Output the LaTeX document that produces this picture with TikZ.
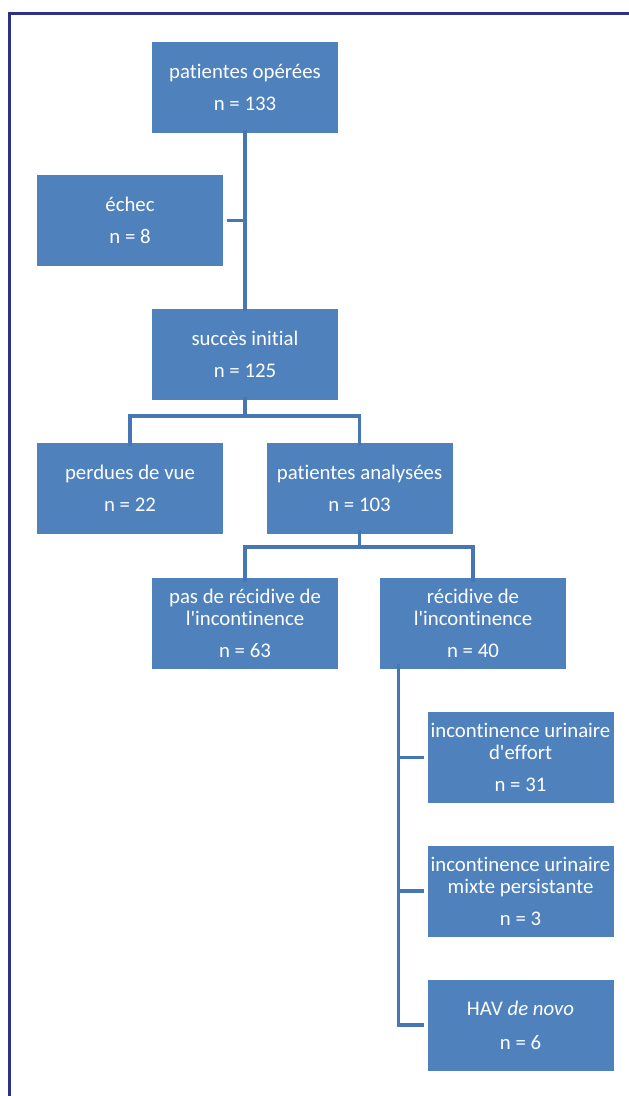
\documentclass[tikz,border=0pt]{standalone}
\usepackage{fontspec}
\setmainfont{Carlito}[Ligatures={TeXOff,CommonOff}]
\definecolor{boxblue}{HTML}{4F81BD}
\definecolor{lineblue}{HTML}{4676B3}
\definecolor{framenavy}{HTML}{2E3188}
\begin{document}
\begin{tikzpicture}[x=1pt,y=-1pt,
  fbox/.style={fill=boxblue, draw=none, minimum width=186pt, minimum height=91pt,
    inner sep=1pt, align=center, text=white, font=\fontsize{20.8}{22}\selectfont},
  conn/.style={draw=lineblue, line width=3.6pt}]
\fill[white] (0,0) rectangle (629,1096);
\useasboundingbox (0,0) rectangle (629,1096);
% frame
\coordinate (fa) at (629,13.5);
\coordinate (fb) at (9.5,13.5);
\coordinate (fc) at (9.5,1096);
\draw[framenavy, line width=2.2pt] (fa) -- (fb) -- (fc);
% boxes
\node[fbox] (n1) at (245,87.5) {patientes opérées\\[10pt]n = 133};
\node[fbox] (n2) at (130,220.5) {échec\\[10pt]n = 8};
\node[fbox] (n3) at (245,354) {succès initial\\[10pt]n = 125};
\node[fbox] (n4) at (130,488.5) {perdues de vue\\[10pt]n = 22};
\node[fbox] (n5) at (359.5,488.5) {patientes analysées\\[10pt]n = 103};
\node[fbox] (n6) at (245,623) {pas de récidive de\\l'incontinence\\[10pt]n = 63};
\node[fbox] (n7) at (473,623) {récidive de\\l'incontinence\\[10pt]n = 40};
\node[fbox] (n8) at (520.5,757.5) {incontinence urinaire\\d'effort\\[10pt]n = 31};
\node[fbox] (n9) at (520.5,891) {incontinence urinaire\\mixte persistante\\[10pt]n = 3};
\node[fbox] (n10) at (520.5,1025) {HAV \textit{de novo}\\[12pt]n = 6};
% connectors
\draw[conn] ([yshift=3pt]n1.south) -- ([yshift=-3pt]n3.north);
\draw[conn] ([xshift=4pt]n2.east) -- (n2.east -| n1.south);
\draw[conn] ([yshift=3pt]n3.south) -- ++(0,19) coordinate (b1);
\draw[conn] ([yshift=-3pt]n4.north) |- (b1) -| ([yshift=-3pt]n5.north);
\draw[conn] ([yshift=4pt]n5.south) -- ++(0,17) coordinate (b2);
\draw[conn] ([yshift=-5pt]n6.north) |- (b2) -| ([yshift=-5pt]n7.north);
\coordinate (v0) at ([yshift=5pt]n7.south -| 398.5,0);
\draw[conn] (v0) |- ([xshift=-3pt]n10.west);
\draw[conn] (v0 |- n8.west) -- ([xshift=-3pt]n8.west);
\draw[conn] (v0 |- n9.west) -- ([xshift=-3pt]n9.west);
\end{tikzpicture}
\end{document}
